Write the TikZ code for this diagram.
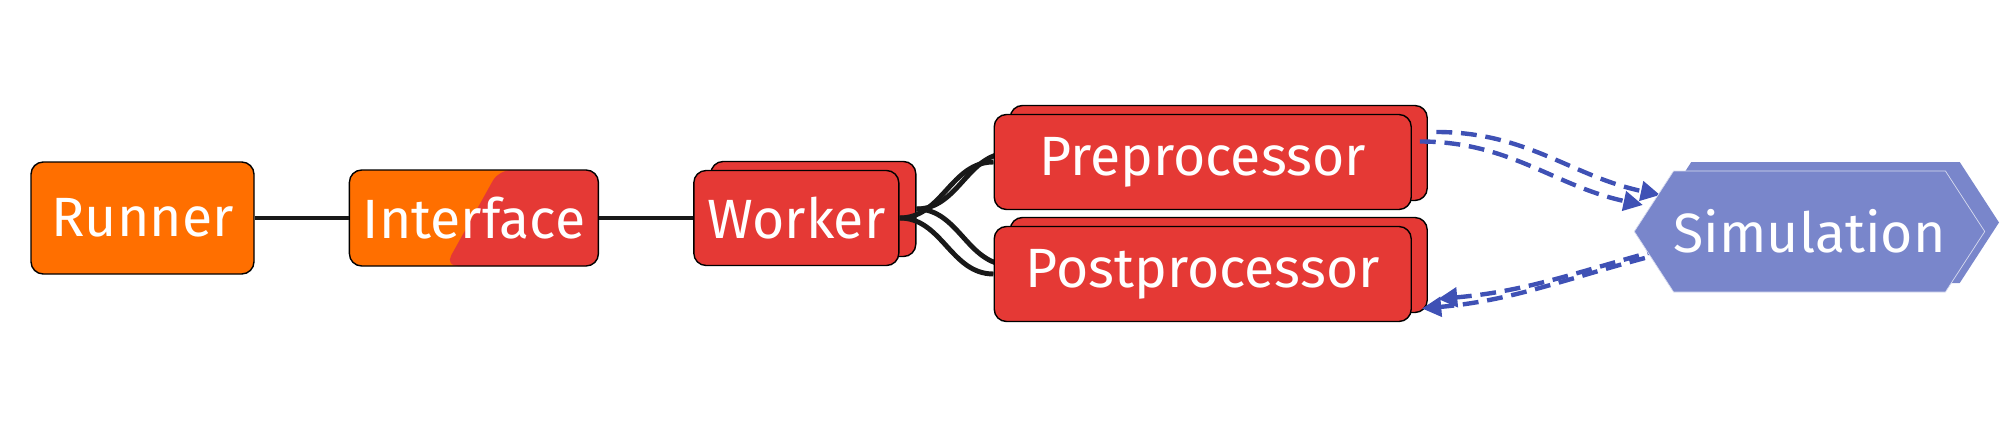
\documentclass[tikz,border=0pt]{standalone}
\usepackage{fontspec}
\setmainfont{Fira Sans}
\usetikzlibrary{arrows.meta, positioning, shapes.symbols, calc}
\definecolor{runorange}{HTML}{FF6F00}
\definecolor{boxred}{HTML}{E53935}
\definecolor{simblue}{HTML}{7986CB}
\definecolor{linkblue}{HTML}{3F51B5}
\pgfdeclarelayer{back}
\pgfsetlayers{back,main}

\begin{document}
\begin{tikzpicture}[
  node distance=1.88cm,
  box/.style={rectangle, rounded corners=7pt, draw=black, line width=0.8pt,
              minimum height=1.9cm, text=white, font=\fontsize{31.5}{38}\selectfont},
  orangebox/.style={box, fill=runorange},
  redbox/.style={box, fill=boxred},
  splitbox/.style={box, fill=runorange, path picture={
      \fill[boxred] ($(path picture bounding box.north west)!0.6!(path picture bounding box.north east)$)
        -- (path picture bounding box.north east) -- (path picture bounding box.south east)
        -- ($(path picture bounding box.south west)!0.385!(path picture bounding box.south east)$) -- cycle;}},
  simbox/.style={signal, signal to=west and east, signal pointer angle=114,
                 fill=simblue, draw=white!70!simblue, line width=0.4pt,
                 inner xsep=0pt, minimum width=6.94cm, minimum height=2.42cm,
                 text=white, font=\fontsize{31.5}{38}\selectfont},
  link/.style={line width=2.8pt, color=black!90},
  flow/.style={-{Triangle[length=11pt,width=11pt]}, line width=2.5pt, color=linkblue,
               dash pattern=on 9pt off 5pt}
]
  \useasboundingbox (0,0) rectangle (40.2,8.94);

  \node[orangebox, minimum width=4.46cm, minimum height=2.24cm] (run) at (2.85,4.58) {Runner};
  \node[splitbox, minimum width=4.98cm, minimum height=1.92cm, right=of run] (ifc) {Interface};
  \node[redbox, minimum width=4.1cm, right=of ifc] (wrk) {Worker};
  \node[redbox, minimum width=8.34cm, right=of wrk, yshift=1.12cm] (pre) {Preprocessor};
  \node[redbox, minimum width=8.34cm, right=of wrk, yshift=-1.12cm] (post) {Postprocessor};
  \node[simbox] (sim) at (36.19,4.31) {Simulation};

  % stacked copies behind
  \begin{pgfonlayer}{back}
    \node[redbox, minimum width=4.1cm] (wrkb) at ([shift={(0.34,0.18)}]wrk) {};
    \node[redbox, minimum width=8.34cm] (preb) at ([shift={(0.32,0.18)}]pre) {};
    \node[redbox, minimum width=8.34cm] (postb) at ([shift={(0.32,0.18)}]post) {};
    \node[simbox, draw=none] (simb) at ([shift={(0.32,0.18)}]sim) {};

    \draw[link] (wrkb.east) to[out=0,in=180] (preb.west);
    \draw[link] (wrkb.east) to[out=0,in=180] (postb.west);
    \draw[flow] ([shift={(0.17,0.42)}]preb.east) to[out=0,in=168] ([shift={(0.17,0.55)}]simb.west);
    \draw[flow] ([shift={(0.22,-0.53)}]simb.west) to[out=195,in=5] ([shift={(0.2,-0.68)}]postb.east);
  \end{pgfonlayer}

  \draw[link] (run) -- (ifc);
  \draw[link] (ifc) -- (wrk);
  \draw[link] (wrk.east) to[out=0,in=180] (pre.west);
  \draw[link] (wrk.east) to[out=0,in=180] (post.west);
  \draw[flow] ([shift={(0.16,0.41)}]pre.east) to[out=0,in=168] ([shift={(0.18,0.53)}]sim.west);
  \draw[flow] ([shift={(0.22,-0.53)}]sim.west) to[out=195,in=5] ([shift={(0.2,-0.69)}]post.east);
\end{tikzpicture}
\end{document}
